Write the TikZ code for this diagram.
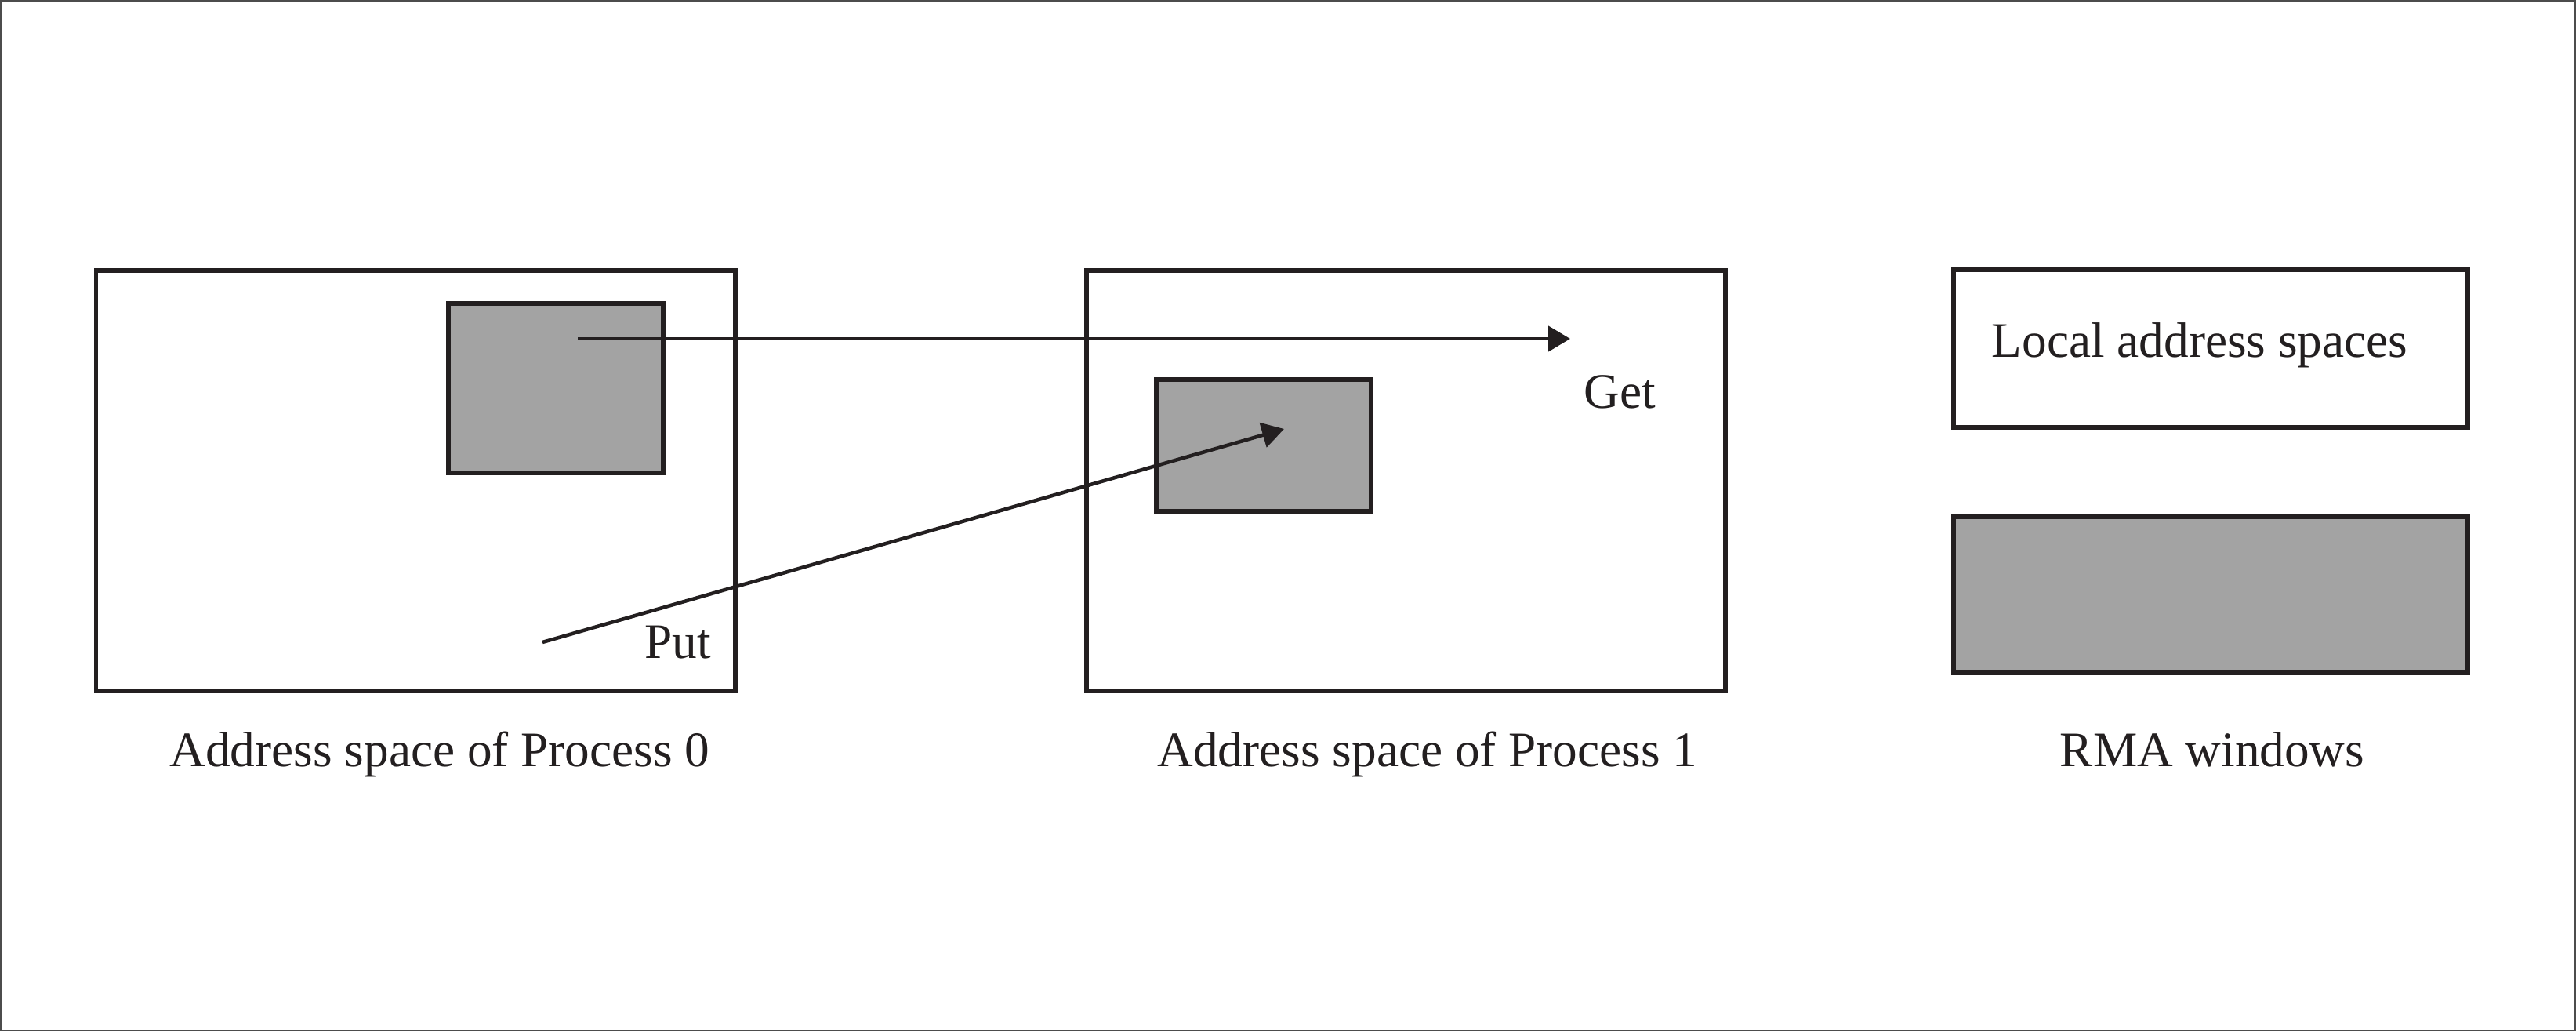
\documentclass[tikz,border=0pt]{standalone}
\usepackage{fontspec}
\setmainfont{Liberation Serif}
\usepackage{tikz}
\usetikzlibrary{arrows.meta,positioning}
\definecolor{inkcolor}{RGB}{35,31,32}
\definecolor{wincolor}{RGB}{163,163,163}

\begin{document}
\begin{tikzpicture}[
  space/.style={draw=inkcolor, line width=1.7pt, inner sep=0pt,
                fill=white},
  win/.style={draw=inkcolor, line width=1.7pt, inner sep=0pt,
              fill=wincolor},
  lbl/.style={font=\fontsize{18}{21.6}\selectfont, text=inkcolor,
              inner sep=0pt},
  arr/.style={-{Triangle[length=2.8mm,width=3.2mm]}, line width=1.3pt,
              draw=inkcolor}
]
\useasboundingbox (0,0) rectangle (32.86,13.15);
\draw[gray!60!black, line width=0.6pt] (0.01,0.01) rectangle (32.85,13.14);

% Process 0
\node[space, minimum width=8.155cm, minimum height=5.36cm]
     (p0) at (5.3025,7.02) {};
\node[win, minimum width=2.74cm, minimum height=2.16cm]
     (w0) at (7.09,8.20) {};
\node[lbl, anchor=base] (p0lbl) at (5.61,3.38) {Address space of Process 0};

% Process 1
\node[space, minimum width=8.155cm, minimum height=5.36cm]
     (p1) at (17.9325,7.02) {};
\node[win, minimum width=2.74cm, minimum height=1.68cm]
     (w1) at (16.12,7.47) {};
\node[lbl, anchor=base] (p1lbl) at (18.21,3.38) {Address space of Process 1};

% Legend
\node[space, minimum width=6.56cm, minimum height=2.01cm]
     (leglocal) at (28.20,8.705) {};
\node[lbl, anchor=base] (loclbl) at (28.06,8.60) {Local address spaces};
\node[win, minimum width=6.56cm, minimum height=1.99cm]
     (legwin) at (28.20,5.565) {};
\node[lbl, anchor=base] (winlbl) at (28.22,3.38) {RMA windows};

% Get
\coordinate (getsrc) at (7.37,8.83);
\coordinate (getdst) at (20.03,8.83);
\draw[arr] (getsrc) -- (getdst);
\node[lbl, anchor=base west] (getlbl) at (20.20,7.95) {Get};

% Put
\coordinate (putsrc) at (6.92,4.96);
\coordinate (putdst) at (16.38,7.68);
\draw[arr] (putsrc) -- (putdst);
\node[lbl, anchor=base west] (putlbl) at (8.22,4.76) {Put};

\end{tikzpicture}
\end{document}
